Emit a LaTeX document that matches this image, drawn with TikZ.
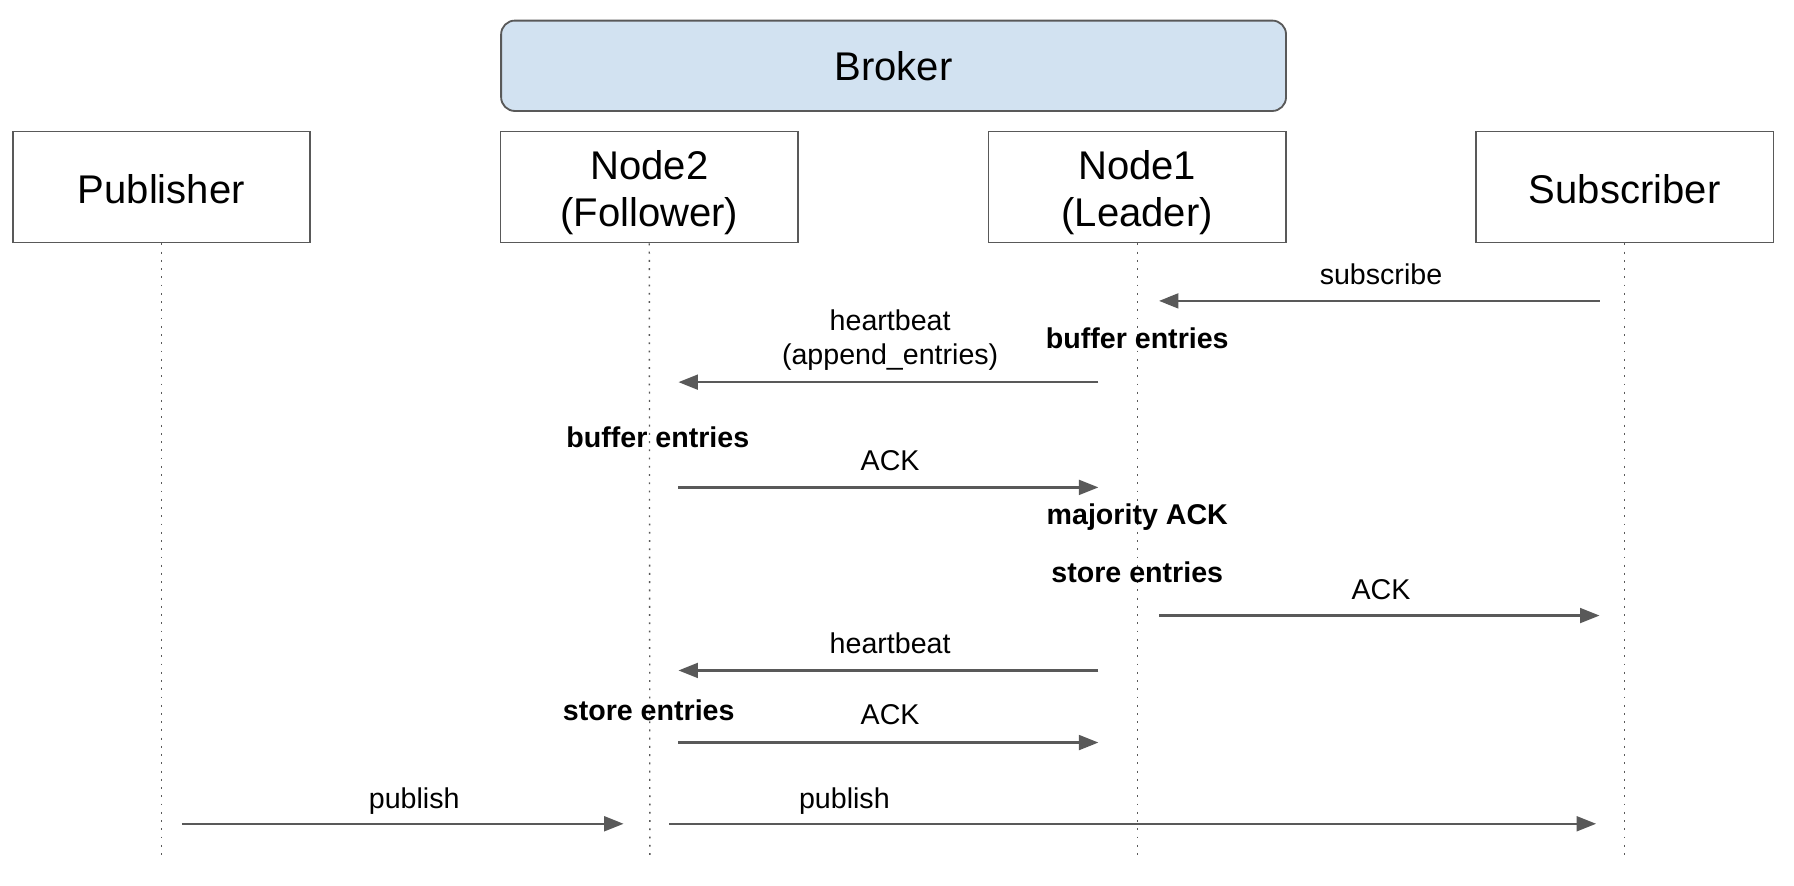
\documentclass[tikz,border=0pt]{standalone}
\usepackage{fontspec}
\setmainfont{Liberation Sans}
\usetikzlibrary{arrows.meta}
\definecolor{edge}{HTML}{595959}
\definecolor{brokerfill}{HTML}{D2E2F1}
\begin{document}
\begin{tikzpicture}[x=0.5pt,y=-0.5pt,
  actor/.style={draw=edge,line width=0.8pt,minimum width=130pt,minimum height=48.5pt,inner sep=0pt},
  actortext/.style={inner sep=0pt,align=center,font=\fontsize{17.5}{20.5}\selectfont},
  brokerbox/.style={draw=edge,fill=brokerfill,line width=0.8pt,rounded corners=6pt,minimum width=343pt,minimum height=39.5pt,inner sep=0pt,
    font=\fontsize{17.5}{20}\selectfont},
  life/.style={draw=edge,line width=0.6pt,dash pattern=on 0.8pt off 2.8pt},
  msg/.style={draw=edge,line width=1pt,-{Triangle[length=8.5pt,width=6.5pt]}},
  lbl/.style={inner sep=0pt,align=center,font=\fontsize{12.5}{15}\selectfont},
  note/.style={inner sep=0pt,font=\fontsize{12.5}{15}\selectfont\bfseries}]
\useasboundingbox (0,0) rectangle (1568,774);
% boxes
\node[brokerbox] (broker) at (781,57.5) {Broker};
\node[actor,label={[actortext,yshift=-1pt]center:Publisher}] (pub) at (141,163.5) {};
\node[actor,label={[actortext,yshift=-2.6pt]center:Node2\\(Follower)}] (n2) at (567.5,163.5) {};
\node[actor,label={[actortext,yshift=-2.6pt]center:Node1\\(Leader)}] (n1) at (994,163.5) {};
\node[actor,label={[actortext,yshift=-1pt]center:Subscriber}] (sub) at (1420,163.5) {};
% lifeline ends
\coordinate (pubE) at (141,750);
\coordinate (n2E) at (568,750);
\coordinate (n1E) at (994,750);
\coordinate (subE) at (1420,750);
\draw[life] (pub.south) -- (pubE);
\draw[life] (n2.south) -- (n2E);
\draw[life] (n1.south) -- (n1E);
\draw[life] (sub.south) -- (subE);
% message end points
\coordinate (s1a) at (1398,263); \coordinate (s1b) at (1013,263);
\coordinate (h1a) at (960,334); \coordinate (h1b) at (593,334);
\coordinate (a1a) at (593,426); \coordinate (a1b) at (960,426);
\coordinate (a2a) at (1013,538); \coordinate (a2b) at (1398,538);
\coordinate (h2a) at (960,586); \coordinate (h2b) at (593,586);
\coordinate (a3a) at (593,649); \coordinate (a3b) at (960,649);
\coordinate (p1a) at (159,720); \coordinate (p1b) at (545,720);
\coordinate (p2a) at (585,720); \coordinate (p2b) at (1395,720);
\draw[msg] (s1a) -- (s1b);
\draw[msg] (h1a) -- (h1b);
\draw[msg] (a1a) -- (a1b);
\draw[msg] (a2a) -- (a2b);
\draw[msg] (h2a) -- (h2b);
\draw[msg] (a3a) -- (a3b);
\draw[msg] (p1a) -- (p1b);
\draw[msg] (p2a) -- (p2b);
% labels
\node[lbl] (l1) at (1207,240) {subscribe};
\node[lbl] (l2) at (778,297) {heartbeat\\(append\_entries)};
\node[lbl] (l3) at (778,403) {ACK};
\node[lbl] (l4) at (1207,515) {ACK};
\node[lbl] (l5) at (778,562) {heartbeat};
\node[lbl] (l6) at (778,625) {ACK};
\node[lbl] (l7) at (362,700) {publish};
\node[lbl] (l8) at (738,700) {publish};
\node[note] (b1) at (994,296) {buffer entries};
\node[note] (b2) at (575,382) {buffer entries};
\node[note] (b3) at (994,452) {majority ACK};
\node[note] (b4) at (994,500) {store entries};
\node[note] (b5) at (567,621) {store entries};
\end{tikzpicture}
\end{document}
